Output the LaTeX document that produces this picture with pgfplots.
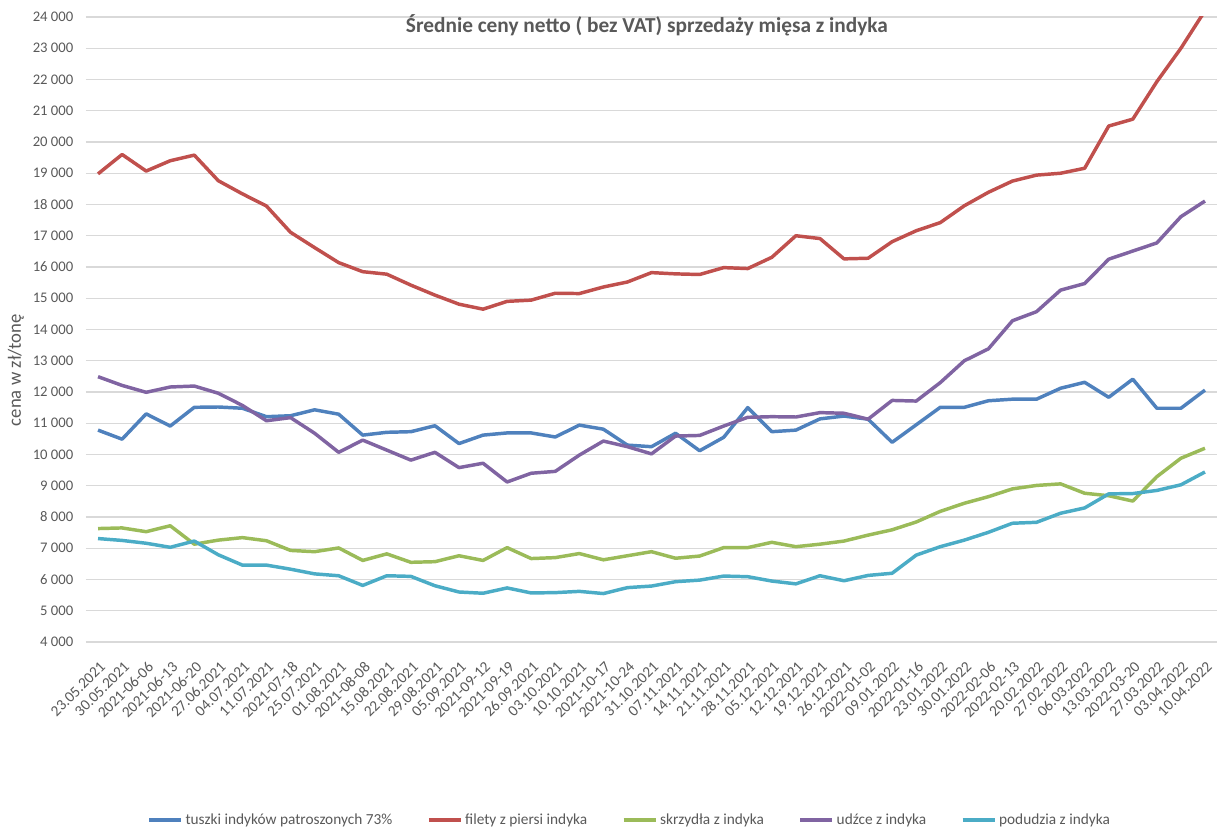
\documentclass[border=0pt]{standalone}
\usepackage{fontspec}
\setmainfont{Carlito}
\usepackage{pgfplots}
\usepackage{pgfplotstable}
\pgfplotsset{compat=1.18}

\definecolor{cTuszki}{HTML}{4F81BD}
\definecolor{cFilety}{HTML}{C0504D}
\definecolor{cSkrzydla}{HTML}{9BBB59}
\definecolor{cUdzce}{HTML}{8064A2}
\definecolor{cPodudzia}{HTML}{4BACC6}
\definecolor{txtGray}{HTML}{595959}
\definecolor{gridGray}{HTML}{D9D9D9}

% srednie ceny netto, zl/tone, tydzien po tygodniu
\pgfplotstableread{
i  tuszki filety skrzydla udzce podudzia
0  10780  18980  7630  12490  7310
1  10490  19600  7650  12210  7250
2  11300  19070  7530  11990  7160
3  10910  19400  7720  12160  7030
4  11510  19580  7130  12190  7230
5  11520  18760  7260  11960  6790
6  11480  18340  7340  11570  6460
7  11210  17950  7240  11080  6460
8  11240  17110  6930  11180  6330
9  11430  16620  6890  10680  6180
10 11290  16140  7010  10070  6120
11 10620  15850  6610  10460  5810
12 10710  15770  6820  10140  6120
13 10730  15420  6550   9820  6100
14 10920  15100  6570  10070  5800
15 10350  14810  6760   9580  5600
16 10620  14650  6610   9720  5560
17 10690  14900  7020   9120  5730
18 10690  14940  6670   9400  5570
19 10560  15160  6700   9460  5580
20 10940  15150  6830   9980  5620
21 10810  15360  6630  10430  5550
22 10300  15520  6760  10250  5740
23 10250  15820  6890  10020  5790
24 10680  15780  6680  10590  5930
25 10120  15760  6750  10610  5980
26 10550  15980  7020  10910  6110
27 11500  15950  7020  11190  6090
28 10730  16310  7190  11210  5950
29 10780  17000  7050  11200  5860
30 11140  16910  7130  11340  6120
31 11230  16260  7230  11320  5960
32 11130  16280  7420  11130  6130
33 10390  16810  7590  11730  6200
34 10950  17160  7840  11710  6780
35 11510  17420  8180  12300  7050
36 11510  17960  8440  13000  7260
37 11720  18390  8650  13380  7510
38 11770  18750  8900  14280  7800
39 11770  18940  9010  14570  7830
40 12120  19000  9060  15260  8120
41 12310  19160  8760  15470  8290
42 11830  20510  8680  16250  8740
43 12410  20730  8510  16510  8750
44 11480  21930  9290  16770  8850
45 11480  23000  9880  17610  9030
46 12060  24200 10200  18110  9440
}\ceny

\begin{document}
\begin{tikzpicture}
\begin{axis}[
  at={(0,0)}, anchor=south west,
  scale only axis, width=848.25pt, height=468.75pt,
  xmin=-0.5, xmax=46.5, ymin=4000, ymax=24000,
  xtick={0,...,46},
  xticklabels={23.05.2021,30.05.2021,2021-06-06,2021-06-13,2021-06-20,27.06.2021,04.07.2021,11.07.2021,2021-07-18,25.07.2021,01.08.2021,2021-08-08,15.08.2021,22.08.2021,29.08.2021,05.09.2021,2021-09-12,2021-09-19,26.09.2021,03.10.2021,10.10.2021,2021-10-17,2021-10-24,31.10.2021,07.11.2021,14.11.2021,21.11.2021,28.11.2021,05.12.2021,12.12.2021,19.12.2021,26.12.2021,2022-01-02,09.01.2022,2022-01-16,23.01.2022,30.01.2022,2022-02-06,2022-02-13,20.02.2022,27.02.2022,06.03.2022,13.03.2022,2022-03-20,27.03.2022,03.04.2022,10.04.2022},
  ytick={4000,5000,...,24000},
  scaled y ticks=false,
  /pgf/number format/.cd, fixed, precision=0, 1000 sep={\ }, assume math mode=true,
  /pgfplots/.cd,
  axis line style={draw=none},
  major tick length=0pt,
  ymajorgrids, grid style={draw=gridGray, line width=1.1pt},
  tick label style={font=\fontsize{11}{13}\selectfont, text=txtGray},
  xticklabel style={font=\fontsize{11.5}{13}\selectfont, rotate=45, anchor=north east, yshift=-7pt, xshift=-6pt},
  yticklabel style={xshift=-6pt},
  title={Średnie ceny netto ( bez VAT) sprzedaży mięsa z indyka},
  title style={at={(axis description cs:0.496,1)}, anchor=north, yshift=-1pt,
    font=\fontsize{16}{18}\selectfont\bfseries, text=txtGray},
  ylabel={cena w zł/tonę},
  ylabel style={at={(axis description cs:-0.0619,0.435)}, anchor=center,
    font=\fontsize{14}{16}\selectfont, text=txtGray},
  legend style={at={(axis description cs:0.481,-0.2848)}, anchor=center,
    draw=none, legend columns=5, font=\fontsize{11.5}{13}\selectfont, text=txtGray,
    /tikz/every even column/.append style={column sep=24pt}},
  legend image code/.code={\draw[#1] (0pt,0pt) -- (24pt,0pt);},
  every axis plot/.append style={line width=2.6pt, line join=round, mark=none},
]
\addplot[cTuszki] table[x=i, y=tuszki] {\ceny};
\addplot[cFilety] table[x=i, y=filety] {\ceny};
\addplot[cSkrzydla] table[x=i, y=skrzydla] {\ceny};
\addplot[cUdzce] table[x=i, y=udzce] {\ceny};
\addplot[cPodudzia] table[x=i, y=podudzia] {\ceny};
\legend{tuszki indyków patroszonych 73\%, filety z piersi indyka, skrzydła z indyka, udźce z indyka, podudzia z indyka}
\end{axis}
\pgfresetboundingbox
\path[use as bounding box] (-64.5pt,-144pt) rectangle (850.5pt,481.5pt);
\end{tikzpicture}
\end{document}
